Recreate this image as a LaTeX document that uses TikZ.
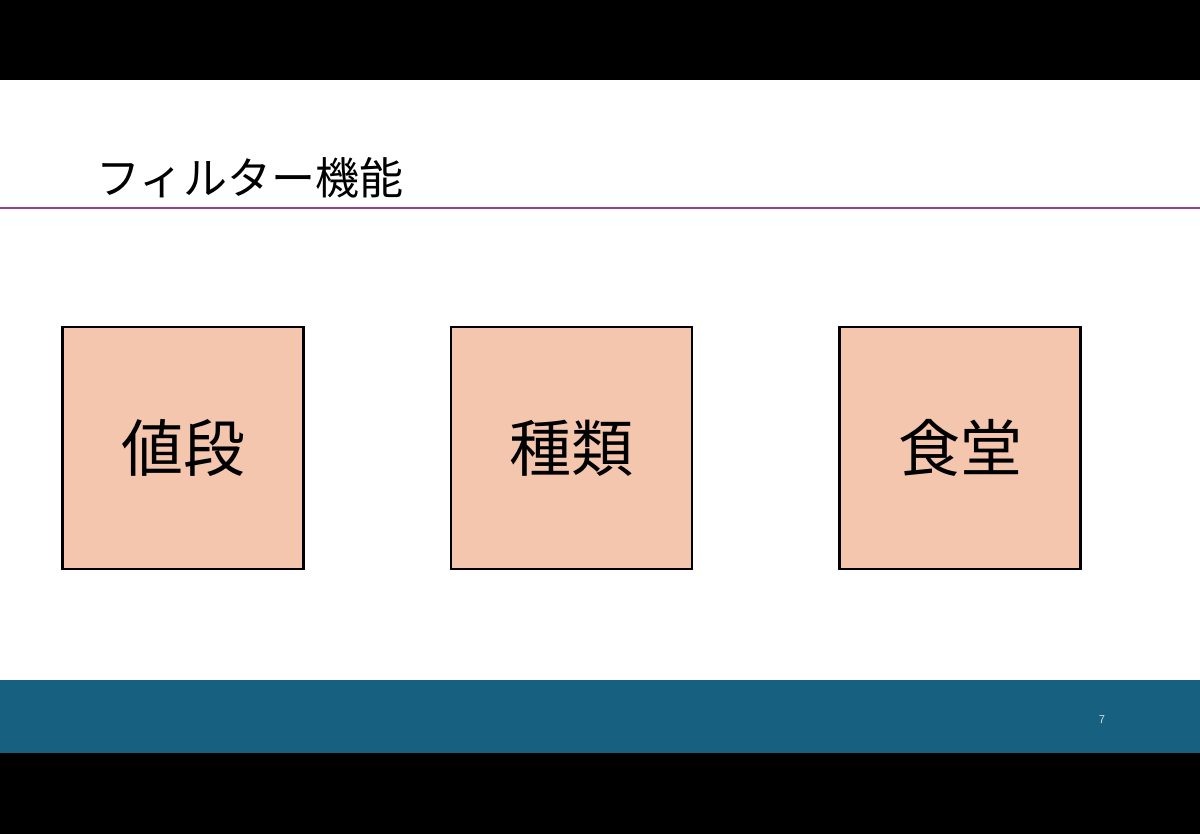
\documentclass[tikz,border=0pt]{standalone}
\usepackage{fontspec}
\newfontfamily\cjk{Noto Sans CJK JP}
\definecolor{boxfill}{HTML}{F5C6AE}
\definecolor{band}{HTML}{18607F}
\definecolor{rule}{HTML}{9B3C9B}
\begin{document}
\begin{tikzpicture}[x=1pt,y=-1pt,
  box/.style={draw=black,line width=2.2pt,fill=boxfill,minimum width=241pt,minimum height=242pt,inner sep=0pt,font=\cjk\fontsize{62}{62}\selectfont}]
\useasboundingbox (0,0) rectangle (1200,834);
\fill[black] (0,0) rectangle (1200,834);
\fill[white] (0,80) rectangle (1200,753);
\fill[band] (0,680) rectangle (1200,753);
\draw[rule,line width=1.5pt] (0,208) -- (1200,208);
\node[anchor=west,inner sep=0pt,font=\cjk\fontsize{44}{44}\selectfont] (title) at (96,178) {フィルター機能};
\node[box] (a) at (183,448) {値段};
\node[box] (b) at (571.5,448) {種類};
\node[box] (c) at (960,448) {食堂};
\node[text=white!85!band,font=\sffamily\fontsize{12}{12}\selectfont] (p) at (1102,720) {7};
\end{tikzpicture}
\end{document}
